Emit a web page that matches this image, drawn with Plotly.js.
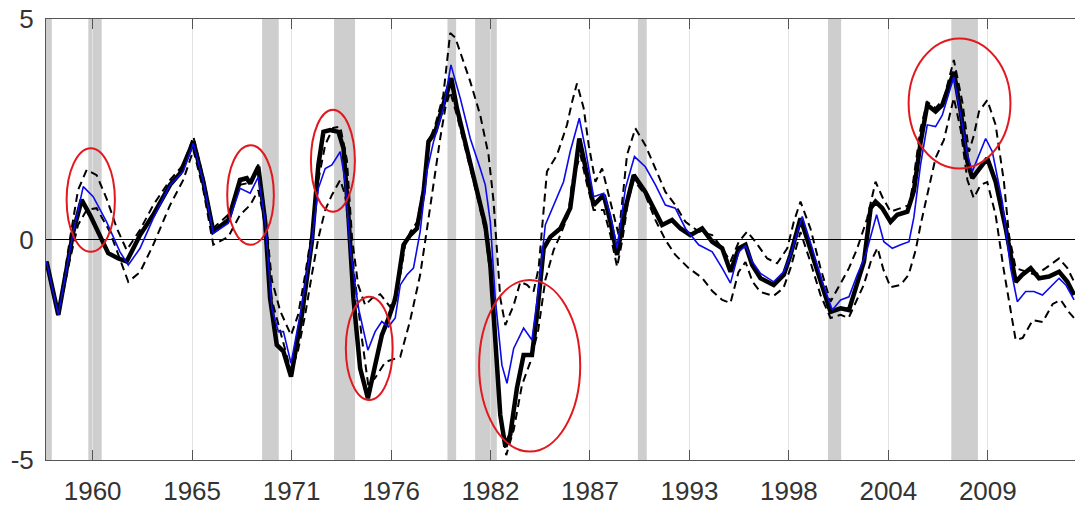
<!DOCTYPE html>
<html>
<head>
<meta charset="utf-8">
<script src="https://cdn.plot.ly/plotly-3.0.1.min.js"></script>
<style>html,body{margin:0;padding:0;background:#fff;}#chart{width:1075px;height:506px;}</style>
</head>
<body>
<div id="chart"></div>
<script>
// ---- data (decimal years) ----
const actualX = [1957.45,1958.10,1958.93,1959.39,1959.85,1960.40,1960.86,1961.42,1961.88,1962.62,1963.35,1964.28,1964.83,1965.57,1966.12,1966.67,1967.50,1968.15,1968.52,1968.71,1969.16,1969.54,1969.81,1970.18,1970.55,1970.97,1971.57,1972.12,1972.48,1972.76,1973.13,1973.59,1973.87,1974.14,1974.42,1974.79,1975.22,1975.62,1975.99,1976.36,1976.73,1976.91,1977.19,1977.56,1977.93,1978.30,1978.57,1978.94,1979.40,1979.83,1980.14,1980.70,1981.25,1981.71,1981.99,1982.26,1982.54,1982.82,1983.09,1983.46,1983.83,1984.29,1984.57,1984.94,1985.31,1985.86,1986.41,1986.91,1987.34,1987.70,1988.26,1988.63,1989.00,1989.46,1989.92,1990.56,1991.12,1991.49,1992.04,1992.50,1993.05,1993.70,1994.26,1994.81,1995.27,1995.73,1996.10,1996.47,1996.93,1997.66,1998.22,1998.59,1999.14,1999.69,2000.25,2000.80,2001.36,2001.82,2002.19,2002.65,2003.02,2003.29,2003.66,2004.12,2004.49,2005.05,2005.41,2005.78,2006.15,2006.61,2006.98,2007.62,2008.00,2008.37,2008.64,2009.01,2009.47,2009.93,2010.49,2011.04,2011.41,2011.87,2012.33,2012.88,2013.44,2013.90,2014.27];
const actualY = [-0.50,-1.71,0.18,0.90,0.56,0.10,-0.31,-0.43,-0.50,0.10,0.56,1.24,1.50,2.22,1.31,0.18,0.44,1.35,1.39,1.27,1.65,0.40,-1.33,-2.39,-2.54,-3.11,-1.71,-0.05,1.69,2.44,2.48,2.44,2.07,0.56,-1.33,-2.92,-3.60,-2.85,-2.17,-1.79,-1.35,-0.88,-0.12,0.10,0.25,1.08,2.22,2.44,3.05,3.66,2.98,2.07,1.16,0.33,-0.58,-2.32,-3.98,-4.70,-4.43,-3.37,-2.62,-2.62,-1.71,-0.20,0.06,0.25,0.71,2.29,1.46,0.78,1.01,0.40,-0.35,0.71,1.46,1.08,0.63,0.33,0.44,0.25,0.10,0.25,-0.05,-0.20,-0.73,-0.20,-0.12,-0.58,-0.88,-1.03,-0.80,-0.35,0.48,-0.20,-0.96,-1.64,-1.56,-1.60,-1.11,-0.50,0.71,0.86,0.71,0.40,0.56,0.63,1.10,2.20,3.05,2.90,3.05,3.80,2.90,1.76,1.39,1.61,1.84,1.31,0.25,-0.96,-0.80,-0.65,-0.88,-0.84,-0.73,-0.96,-1.26];

const modelX = [1957.45,1958.10,1958.93,1959.48,1960.03,1960.77,1961.51,1961.97,1962.62,1963.35,1964.28,1965.01,1965.57,1966.12,1966.67,1967.50,1968.15,1968.71,1969.16,1969.54,1969.91,1970.27,1970.55,1970.97,1971.57,1972.12,1972.48,1972.86,1973.23,1973.69,1973.96,1974.24,1974.70,1975.22,1975.62,1975.99,1976.36,1976.73,1977.01,1977.38,1977.74,1978.11,1978.48,1978.85,1979.40,1979.81,1980.33,1980.88,1981.43,1981.71,1981.99,1982.26,1982.63,1982.91,1983.28,1983.83,1984.29,1984.66,1985.03,1985.49,1986.04,1986.41,1986.91,1987.24,1987.70,1988.26,1988.63,1989.00,1989.46,1989.96,1990.56,1991.12,1991.67,1992.22,1992.78,1993.51,1994.26,1994.81,1995.27,1995.73,1996.10,1996.47,1996.93,1997.66,1998.22,1998.59,1999.24,1999.79,2000.34,2000.90,2001.36,2001.82,2002.28,2002.74,2003.35,2003.75,2004.22,2004.68,2005.14,2005.41,2005.78,2006.15,2006.61,2006.98,2007.62,2008.00,2008.37,2008.64,2009.01,2009.38,2009.75,2010.30,2010.76,2011.13,2011.59,2012.05,2012.52,2013.07,2013.44,2013.81,2014.27];
const modelY = [-0.50,-1.71,0.18,1.20,0.97,0.40,-0.28,-0.58,-0.20,0.48,1.24,1.54,2.18,1.31,0.14,0.37,1.16,1.05,1.42,0.40,-1.56,-2.09,-2.09,-2.81,-1.49,-0.05,1.16,1.61,1.69,1.99,1.31,-0.20,-1.56,-2.51,-2.09,-1.86,-1.98,-1.78,-1.03,-0.80,-0.65,0.18,1.54,2.22,2.98,3.96,3.20,2.29,1.61,1.24,0.40,-1.33,-2.85,-3.26,-2.47,-2.01,-2.28,-1.11,0.33,0.78,1.31,2.00,2.75,2.07,0.97,1.05,0.56,-0.20,1.16,1.88,1.65,1.24,0.78,0.71,0.25,-0.12,-0.28,-0.65,-0.99,-0.28,-0.14,-0.50,-0.77,-0.96,-0.73,-0.35,0.52,-0.20,-0.96,-1.60,-1.37,-1.30,-0.80,-0.35,0.56,-0.05,-0.20,-0.12,-0.05,0.50,1.70,2.60,2.56,2.82,3.69,2.82,1.92,1.54,1.92,2.29,1.99,0.86,-0.65,-1.41,-1.18,-1.18,-1.26,-1.03,-0.88,-1.03,-1.37];

const upperX = [1957.45,1958.10,1958.74,1959.19,1959.67,1960.22,1960.77,1961.33,1961.88,1962.62,1963.35,1964.28,1965.01,1965.57,1966.12,1966.67,1967.50,1968.15,1968.71,1969.16,1969.54,1969.91,1970.37,1970.97,1971.36,1971.75,1972.12,1972.48,1972.86,1973.30,1973.69,1974.06,1974.35,1974.68,1975.07,1975.46,1975.90,1976.45,1976.78,1977.01,1977.28,1977.56,1977.95,1978.28,1978.56,1978.94,1979.39,1979.77,1980.05,1980.88,1981.43,1981.89,1982.17,1982.54,1982.82,1983.28,1983.65,1984.02,1984.38,1984.66,1985.12,1985.68,1986.23,1986.51,1986.78,1987.15,1987.43,1987.80,1988.17,1988.53,1988.90,1989.09,1989.55,1990.01,1990.56,1991.12,1991.67,1992.22,1992.78,1993.51,1994.26,1994.81,1995.27,1995.73,1996.19,1996.65,1997.30,1997.85,1998.41,1998.77,1999.14,1999.69,2000.25,2000.80,2001.26,2001.82,2002.28,2002.83,2003.29,2003.66,2004.12,2004.68,2005.14,2005.32,2005.78,2006.15,2006.61,2007.07,2007.62,2008.09,2008.46,2008.73,2009.01,2009.47,2009.93,2010.39,2010.67,2011.04,2011.59,2012.15,2012.70,2013.44,2013.90,2014.27];
const upperY = [-0.50,-1.71,0.00,1.12,1.58,1.46,0.93,0.26,-0.24,0.22,0.78,1.35,1.69,2.33,1.40,0.26,0.56,1.24,1.29,1.70,0.56,-0.92,-1.62,-2.17,-1.71,-0.80,0.17,1.35,2.15,2.53,2.56,1.80,0.00,-1.03,-1.49,-1.33,-1.24,-1.53,-1.22,-0.81,-0.12,0.17,0.40,1.17,2.19,2.59,3.27,4.68,4.58,3.58,2.82,1.92,0.86,-1.33,-1.94,-1.49,-0.96,-1.03,-1.18,-0.65,1.54,1.92,2.60,3.12,3.54,2.98,2.14,1.31,1.61,1.01,0.40,0.10,1.92,2.52,2.14,1.61,1.08,0.78,0.40,0.18,0.10,-0.20,-0.50,-0.05,0.18,-0.05,-0.43,-0.54,-0.20,0.40,0.86,0.25,-0.65,-1.41,-1.07,-0.65,-0.20,0.48,1.31,0.97,0.63,0.71,0.78,1.16,2.52,3.12,2.98,3.20,4.07,3.12,1.99,2.37,2.90,3.16,2.60,1.31,0.10,-0.65,-0.73,-0.80,-0.65,-0.43,-0.65,-0.96];

const lowerX = [1957.45,1958.10,1958.74,1959.19,1959.67,1960.22,1960.96,1961.51,1961.97,1962.62,1963.35,1964.28,1965.01,1965.57,1966.12,1966.67,1967.50,1968.15,1968.71,1969.16,1969.54,1969.91,1970.37,1970.64,1970.97,1971.36,1971.75,1972.12,1972.48,1972.86,1973.23,1973.69,1973.96,1974.24,1974.57,1974.90,1975.24,1975.62,1976.18,1976.73,1977.01,1977.56,1978.11,1978.48,1978.85,1979.22,1979.50,1979.77,1980.14,1980.70,1981.25,1981.71,1981.99,1982.26,1982.54,1982.87,1983.28,1983.74,1984.20,1984.64,1985.03,1985.49,1985.86,1986.30,1986.51,1986.97,1987.34,1987.70,1988.26,1988.63,1989.00,1989.29,1989.62,1989.92,1990.56,1991.12,1991.67,1992.22,1992.96,1993.70,1994.26,1994.81,1995.27,1995.71,1996.10,1996.49,1996.93,1997.65,1998.20,1998.59,1999.14,1999.69,2000.25,2000.80,2001.36,2001.80,2002.25,2002.64,2003.02,2003.40,2003.73,2004.12,2004.68,2005.12,2005.51,2005.78,2006.15,2006.61,2007.07,2007.62,2008.00,2008.37,2008.72,2009.10,2009.47,2009.93,2010.38,2010.76,2011.04,2011.43,2011.98,2012.53,2013.09,2013.53,2013.97,2014.27];
const lowerY = [-0.50,-1.71,-0.46,0.33,0.67,0.71,0.17,-0.46,-0.96,-0.74,-0.12,0.78,1.35,2.03,1.12,-0.12,0.06,0.56,0.78,1.12,0.33,-1.37,-2.05,-2.51,-3.00,-2.51,-1.71,-0.80,0.03,0.67,1.01,1.35,1.01,-0.01,-1.15,-2.28,-3.30,-3.14,-2.78,-2.69,-2.66,-1.83,-0.80,0.22,1.30,2.30,2.98,3.35,2.82,1.92,1.01,0.17,-0.80,-2.39,-4.09,-4.89,-4.32,-3.30,-2.78,-2.05,-0.92,-0.24,0.10,0.56,1.30,1.92,1.24,0.67,0.67,0.10,-0.62,-0.01,0.90,1.35,1.01,0.44,-0.01,-0.35,-0.65,-0.87,-1.17,-1.37,-1.44,-0.74,-0.51,-0.96,-1.19,-1.28,-1.10,-0.65,0.17,-0.51,-1.26,-1.78,-1.71,-1.78,-1.37,-1.03,-0.51,-0.19,-0.69,-1.08,-1.03,-0.80,-0.24,0.33,1.01,1.85,2.26,3.21,2.48,1.35,0.94,1.24,1.30,0.56,-0.69,-1.60,-2.28,-2.23,-1.83,-1.87,-1.46,-1.37,-1.64,-1.78];

const recessionStart = [1957.30,1959.76,1969.37,1973.35,1979.62,1981.15,1990.15,2000.66,2007.48];
const recessionEnd   = [1957.74,1960.50,1970.29,1974.51,1980.10,1982.35,1990.64,2001.39,2008.95];

const tickVals = [1960,1965.5,1971,1976.5,1982,1987.5,1993,1998.5,2004,2009.5];
const tickText = ['1960','1965','1971','1976','1982','1987','1993','1998','2004','2009'];

// highlighted episodes (ellipse bounds)
const ellX0 = [1958.56,1967.44,1972.07,1974.00,1981.37,2005.12];
const ellX1 = [1961.23,1970.02,1974.50,1976.59,1986.96,2010.75];
const ellY0 = [-0.28,-0.12,0.63,-3.64,-4.81,1.61];
const ellY1 = [2.07,2.14,2.94,-1.30,-0.92,4.56];

// ---- chart ----
const shapes = [];
recessionStart.forEach((s,i)=>shapes.push({type:'rect',xref:'x',yref:'paper',x0:s,x1:recessionEnd[i],y0:0,y1:1,
  fillcolor:'rgb(206,206,206)',line:{width:0},layer:'below'}));
ellX0.forEach((x0,i)=>shapes.push({type:'circle',xref:'x',yref:'y',x0:x0,x1:ellX1[i],y0:ellY0[i],y1:ellY1[i],
  line:{color:'rgb(225,25,30)',width:2},layer:'above'}));

const traces = [
  {x:actualX,y:actualY,mode:'lines',line:{color:'#000',width:4.5},hoverinfo:'skip'},
  {x:upperX,y:upperY,mode:'lines',line:{color:'#000',width:2,dash:'8px,5px'},hoverinfo:'skip'},
  {x:lowerX,y:lowerY,mode:'lines',line:{color:'#000',width:2,dash:'8px,5px'},hoverinfo:'skip'},
  {x:modelX,y:modelY,mode:'lines',line:{color:'rgb(10,10,235)',width:1.6},hoverinfo:'skip'}
];

const layout = {
  width:1075,height:506,
  margin:{l:46,r:0,t:19,b:46},
  paper_bgcolor:'#fff',plot_bgcolor:'#fff',
  showlegend:false,
  font:{family:'"Liberation Sans", Arial, sans-serif',size:26,color:'#333'},
  xaxis:{range:[1957.42,2014.32],tickvals:tickVals,ticktext:tickText,
    showgrid:true,gridcolor:'#e2e2e2',gridwidth:1,zeroline:false,
    showline:true,linecolor:'#555',linewidth:1,mirror:'ticks',
    ticks:'inside',ticklen:10,tickcolor:'#555',tickwidth:1,ticklabelstandoff:8,
    tickfont:{size:26,color:'#333'}},
  yaxis:{range:[-5,5],tickvals:[-5,0,5],ticktext:['-5','0','5'],
    showgrid:false,zeroline:true,zerolinecolor:'#000',zerolinewidth:1,
    showline:true,linecolor:'#555',linewidth:1,mirror:true,
    ticks:'',ticklabelstandoff:6,tickfont:{size:26,color:'#333'}},
  shapes:shapes
};

Plotly.newPlot('chart',traces,layout,{staticPlot:true,displayModeBar:false});
</script>
</body>
</html>
